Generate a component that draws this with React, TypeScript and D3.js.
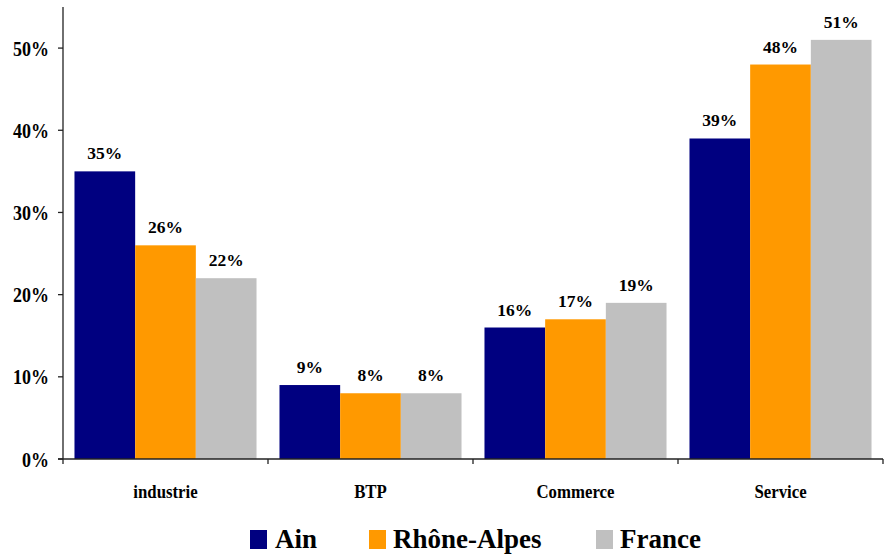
import React from "react";
import * as d3 from "d3";

const categories = ["industrie", "BTP", "Commerce", "Service"];
const seriesNames = ["Ain", "Rhône-Alpes", "France"];
const ainValues = [35, 9, 16, 39];
const rhoneValues = [26, 8, 17, 48];
const franceValues = [22, 8, 19, 51];
const yTicks = [0, 10, 20, 30, 40, 50];
const colors = ["#000080", "#FF9900", "#C0C0C0"];

const W = 885;
const H = 556;
const left = 63;
const right = 883;
const bottom = 459;
const top = 7;
const font = "Liberation Serif, DejaVu Serif, Times New Roman, serif";

export default function App() {
  const series = [ainValues, rhoneValues, franceValues];
  const x = d3.scaleBand<string>().domain(categories).range([left, right]).paddingInner(0.112).paddingOuter(0.056);
  const xs = d3.scaleBand<number>().domain([0, 1, 2]).range([0, x.bandwidth()]).padding(0);
  const y = d3.scaleLinear().domain([0, 55]).range([bottom, top]);
  const step = x.step();
  const boundaries = d3.range(categories.length + 1).map((i) => left + i * step);

  const legendItems = [
    { sq: 250, tx: 275 },
    { sq: 369, tx: 393 },
    { sq: 596, tx: 620 },
  ];

  return (
    <svg width={W} height={H} style={{ position: "absolute", left: 0, top: 0, background: "#fff", fontFamily: font }}>
      {categories.map((c, ci) =>
        series.map((vals, si) => (
          <g key={c + si}>
            <rect
              x={(x(c) as number) + (xs(si) as number)}
              y={y(vals[ci])}
              width={xs.bandwidth()}
              height={bottom - y(vals[ci])}
              fill={colors[si]}
            />
            <text
              x={(x(c) as number) + (xs(si) as number) + xs.bandwidth() / 2}
              y={y(vals[ci]) - 12}
              textAnchor="middle"
              fontWeight="bold"
              fontSize={17.5}
              fill="#000"
              style={{ fontFamily: font }}
            >
              {vals[ci]}%
            </text>
          </g>
        ))
      )}
      <line x1={left} x2={left} y1={top} y2={bottom} stroke="#222" strokeWidth={1.3} />
      {yTicks.map((t) => (
        <g key={t}>
          <line x1={left - 5} x2={left} y1={y(t)} y2={y(t)} stroke="#222" strokeWidth={1.3} />
          <text
            transform={`translate(49,${y(t) + 7.5}) scale(1,1.22)`}
            textAnchor="end"
            fontWeight="bold"
            fontSize={18}
            fill="#000"
            style={{ fontFamily: font }}
          >
            {t}%
          </text>
        </g>
      ))}
      <line x1={left - 5} x2={right} y1={bottom} y2={bottom} stroke="#222" strokeWidth={1.3} />
      {boundaries.map((b, i) => (
        <line key={i} x1={b} x2={b} y1={bottom} y2={bottom + 5} stroke="#222" strokeWidth={1.3} />
      ))}
      {categories.map((c) => (
        <text
          key={c}
          transform={`translate(${(x(c) as number) + x.bandwidth() / 2},498) scale(1,1.15)`}
          textAnchor="middle"
          fontWeight="bold"
          fontSize={16.8}
          fill="#000"
          style={{ fontFamily: font }}
        >
          {c}
        </text>
      ))}
      {seriesNames.map((n, i) => (
        <g key={n}>
          <rect x={legendItems[i].sq} y={530} width={17} height={19} fill={colors[i]} />
          <text x={legendItems[i].tx} y={548} fontWeight="bold" fontSize={27} fill="#000" style={{ fontFamily: font }}>
            {n}
          </text>
        </g>
      ))}
    </svg>
  );
}
